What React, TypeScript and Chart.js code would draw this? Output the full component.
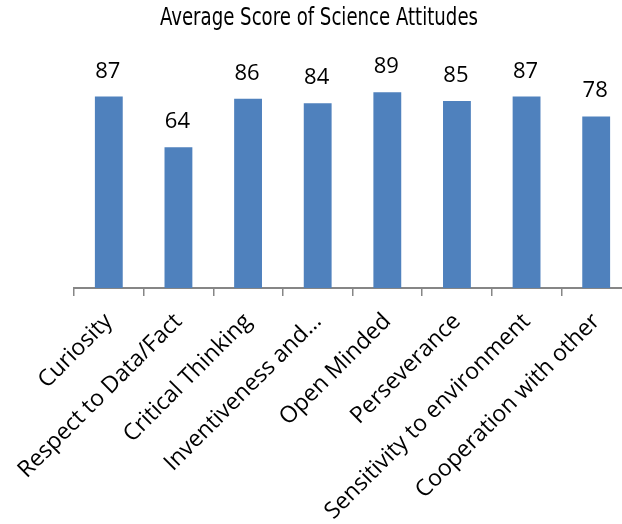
import React, { useEffect, useRef } from "react";
import { Chart, registerables } from "chart.js";

Chart.register(...registerables);

const categories: string[] = [
  "Curiosity",
  "Respect to Data/Fact",
  "Critical Thinking",
  "Inventiveness and…",
  "Open Minded",
  "Perseverance",
  "Sensitivity to environment",
  "Cooperation with other",
];
const scores: number[] = [87, 64, 86, 84, 89, 85, 87, 78];
const chartTitle = "Average Score of Science Attitudes";

const LABEL_FONT = '"Open Sans", "Noto Sans", sans-serif';
const TITLE_FONT = '"Liberation Sans Narrow", "Arial Narrow", "DejaVu Sans Condensed", sans-serif';

const valueLabels = {
  id: "valueLabels",
  afterDatasetsDraw(chart: any) {
    const ctx = chart.ctx;
    const meta = chart.getDatasetMeta(0);
    ctx.save();
    ctx.font = `22px ${LABEL_FONT}`;
    ctx.fillStyle = "#000000";
    ctx.textAlign = "center";
    ctx.textBaseline = "alphabetic";
    meta.data.forEach((bar: any, i: number) => {
      ctx.fillText(String(scores[i]), bar.x - 1, bar.y - 19);
    });
    ctx.restore();
  },
};

// Narrow title drawn as canvas text, horizontally condensed to mimic Arial Narrow
const narrowTitle = {
  id: "narrowTitle",
  afterDraw(chart: any) {
    const ctx = chart.ctx;
    ctx.save();
    ctx.font = `24px ${TITLE_FONT}`;
    ctx.fillStyle = "#000000";
    ctx.textAlign = "center";
    ctx.textBaseline = "middle";
    const w = ctx.measureText(chartTitle).width;
    const sx = Math.min(1, 318 / w);
    ctx.translate(319, 19);
    ctx.scale(sx, 1);
    ctx.fillText(chartTitle, 0, 0);
    ctx.restore();
  },
};

export default function App() {
  const ref = useRef<HTMLCanvasElement | null>(null);
  useEffect(() => {
    if (!ref.current) return;
    const chart = new Chart(ref.current, {
      type: "bar",
      data: {
        labels: categories,
        datasets: [
          {
            data: scores,
            backgroundColor: "#4F81BD",
            borderWidth: 0,
            barPercentage: 0.4,
            categoryPercentage: 1,
          },
        ],
      },
      options: {
        responsive: false,
        animation: false,
        devicePixelRatio: 1,
        layout: { padding: { left: 74, right: 9, top: 68, bottom: 0 } },
        plugins: {
          legend: { display: false },
          tooltip: { enabled: false },
          title: { display: false },
        },
        scales: {
          x: {
            offset: true,
            grid: {
              offset: true,
              drawOnChartArea: false,
              drawTicks: true,
              tickLength: 8,
              color: "#868686",
              lineWidth: 1.5,
            },
            border: { display: true, color: "#868686", width: 2 },
            ticks: {
              color: "#000000",
              maxRotation: 45,
              minRotation: 45,
              autoSkip: false,
              padding: 12,
              font: { family: LABEL_FONT, size: 23 },
            },
            afterFit: (scale: any) => {
              scale.height = 236;
            },
          },
          y: {
            display: false,
            min: 0,
            max: 100,
          },
        },
      },
      plugins: [valueLabels, narrowTitle],
    });
    return () => chart.destroy();
  }, []);
  return (
    <div style={{ position: "fixed", left: 0, top: 0, width: 622, height: 524, overflow: "hidden", background: "#ffffff" }}>
      <canvas ref={ref} width={640} height={524} style={{ width: 640, height: 524, display: "block" }} />
    </div>
  );
}
